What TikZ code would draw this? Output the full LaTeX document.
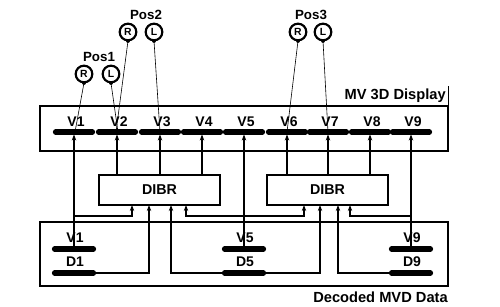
\documentclass[tikz,border=0pt]{standalone}
\usepackage{fontspec}
\setmainfont{Liberation Sans}
\usetikzlibrary{arrows.meta,calc}
\begin{document}
\begin{tikzpicture}[x=0.75pt,y=-0.75pt,
  conn/.style={line width=1.1pt},
  arr/.style={conn,-{Stealth[length=4.5pt,width=3.3pt]}},
  segbar/.style={line width=3.9pt,line cap=round},
  posline/.style={line width=0.45pt},
  box/.style={draw,line width=1.1pt,inner sep=0pt},
  vlbl/.style={font=\bfseries\fontsize{10.5}{12}\selectfont,inner sep=0pt},
  title/.style={font=\bfseries\fontsize{11}{13}\selectfont,inner sep=0pt},
  poslbl/.style={font=\bfseries\fontsize{10}{12}\selectfont,inner sep=0pt},
  eye/.style={draw,circle,line width=1.6pt,minimum size=12.5pt,inner sep=0pt,font=\bfseries\fontsize{7.8}{8}\selectfont},
]
\useasboundingbox (0,0) rectangle (500,307);

% boxes
\node[box,minimum width=306pt,minimum height=33.75pt] (disp) at (244,128.5) {};
\node[box,minimum width=306pt,minimum height=48pt] (src) at (244,254) {};
\node[box,minimum width=90.75pt,minimum height=22.5pt,font=\bfseries\fontsize{10.7}{12}\selectfont] (dibrL) at (159.5,190) {DIBR};
\node[box,minimum width=90.75pt,minimum height=22.5pt,font=\bfseries\fontsize{10.7}{12}\selectfont] (dibrR) at (327.5,190) {DIBR};

% titles
\node[title,anchor=east] (disptitle) at (446,96) {MV 3D Display};
\draw[line width=0.6pt] (disp.north east) -- ++(0,-19) coordinate (tick);
\node[title,anchor=east] (srctitle) at (448,297) {Decoded MVD Data};

% display bar segments and labels
\foreach \i/\x in {1/74,2/117,3/160,4/202,5/244,6/287,7/328,8/370,9/411}{
  \coordinate (dv\i) at (\x,132);
  \draw[segbar] (\x-18.5,132) -- (\x+18.5,132);
  \node[vlbl] (dl\i) at (\x+2,122) {V\i};
}

% source bars and labels
\foreach \i/\x in {1/74,5/244,9/411}{
  \coordinate (sv\i) at (\x,249);
  \coordinate (sd\i) at (\x,273);
  \coordinate (sdl\i) at (\x-20,273);
  \coordinate (sdr\i) at (\x+20,273);
  \draw[segbar] (\x-19.5,249) -- (\x+19.5,249);
  \draw[segbar] (\x-19.5,273) -- (\x+19.5,273);
  \node[vlbl] (svl\i) at (\x+1,238) {V\i};
  \node[vlbl] (sdlb\i) at (\x+1,262) {D\i};
}

% junction level and DIBR inputs
\coordinate (jy) at (0,216);
\coordinate (inL1) at (132,205);
\coordinate (inL2) at (149,205);
\coordinate (inL3) at (171,205);
\coordinate (inL4) at (186,205);
\coordinate (inR1) at (304,205);
\coordinate (inR2) at (320,205);
\coordinate (inR3) at (338,205);
\coordinate (inR4) at (350,205);

% direct view paths
\draw[arr,shorten >=1.8pt] (sv1) -- (dv1);
\draw[arr,shorten >=1.8pt] (sv5) -- (dv5);
\draw[arr,shorten >=1.8pt] (sv9) -- (dv9);

% inputs to DIBR
\draw[arr] (sv1 |- jy) -| (inL1);
\draw[arr] (sdr1) -| (inL2);
\draw[arr] (sdl5) -| (inL3);
\draw[arr] (sv5 |- jy) -| (inL4);
\draw[arr] (sv5 |- jy) -| (inR1);
\draw[arr] (sdr5) -| (inR2);
\draw[arr] (sdl9) -| (inR3);
\draw[arr] (sv9 |- jy) -| (inR4);

% DIBR outputs
\foreach \i in {2,3,4}{ \draw[arr,shorten >=1.8pt] (dibrL.north -| dv\i) -- (dv\i); }
\foreach \i in {6,7,8}{ \draw[arr,shorten >=1.8pt] (dibrR.north -| dv\i) -- (dv\i); }

% viewing positions
\node[eye] (p1r) at (84,74) {R};
\node[eye] (p1l) at (111,74) {L};
\node[poslbl] (p1) at (99,57) {Pos1};
\node[eye] (p2r) at (128,32) {R};
\node[eye] (p2l) at (154,32) {L};
\node[poslbl] (p2) at (146,15) {Pos2};
\node[eye] (p3r) at (298,32) {R};
\node[eye] (p3l) at (323,32) {L};
\node[poslbl] (p3) at (311,15) {Pos3};

\foreach \n in {p1r,p1l,p2r,p2l,p3r,p3l}{
  \fill ($(\n.south)+(0,-0.5)$) circle[radius=1.5pt];
}
\coordinate (e1r) at (75,132);
\coordinate (e1l) at (118,132);
\coordinate (e2r) at (116,132);
\coordinate (e2l) at (160,132);
\coordinate (e3r) at (287,132);
\coordinate (e3l) at (328,132);
\draw[posline] ($(p1r.south)+(0,-0.5)$) -- (e1r);
\draw[posline] ($(p1l.south)+(0,-0.5)$) -- (e1l);
\draw[posline] ($(p2r.south)+(0,-0.5)$) -- (e2r);
\draw[posline] ($(p2l.south)+(0,-0.5)$) -- (e2l);
\draw[posline] ($(p3r.south)+(0,-0.5)$) -- (e3r);
\draw[posline] ($(p3l.south)+(0,-0.5)$) -- (e3l);
\end{tikzpicture}
\end{document}
